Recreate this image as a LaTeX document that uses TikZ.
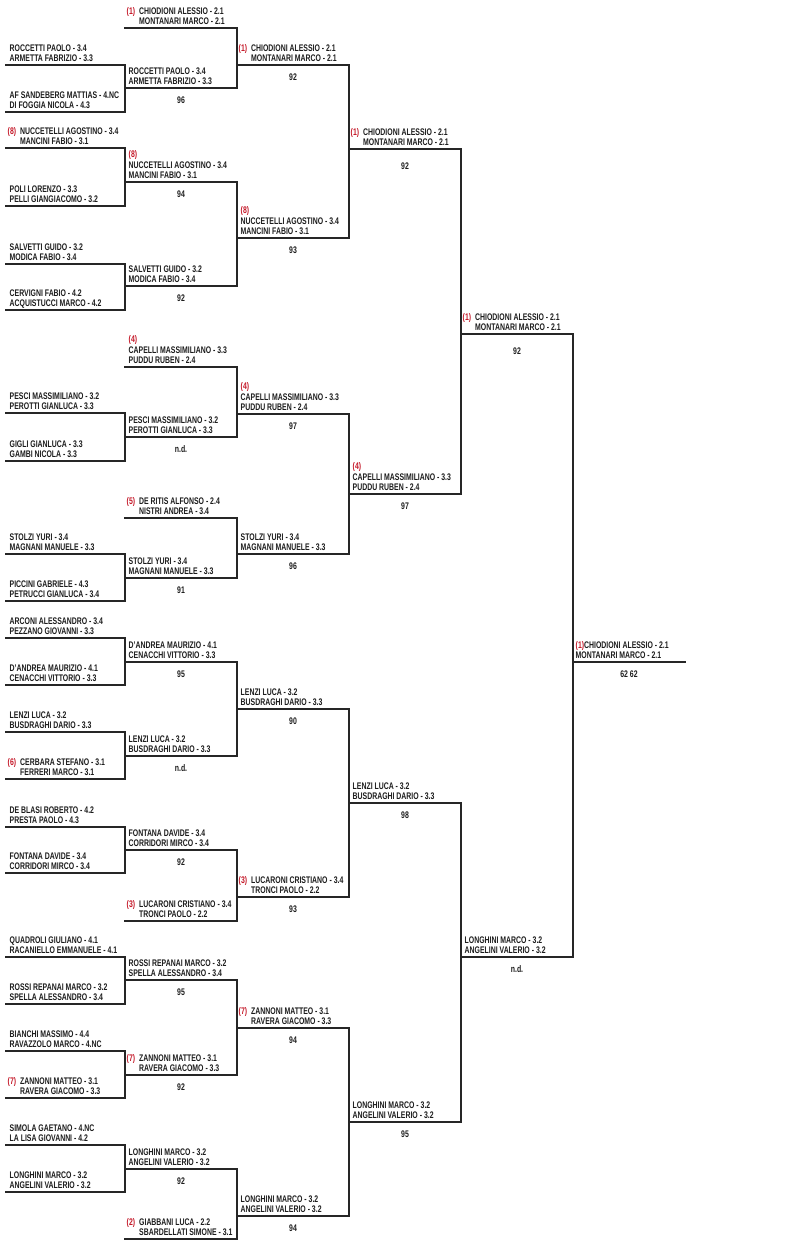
\documentclass[tikz,border=0pt]{standalone}
\usepackage{fontspec}
\setmainfont{Liberation Sans}[FakeStretch=0.72]
\definecolor{ink}{RGB}{28,28,28}
\definecolor{seedred}{RGB}{196,24,40}
\newcommand{\namefont}{\fontsize{9.6}{10.5}\selectfont\bfseries}
\newcommand{\seedtag}[1]{\textcolor{seedred}{(#1)}}
\newcommand{\seedin}[1]{\hspace*{-2pt}\makebox[12.5pt][l]{\seedtag{#1}}}
\newcommand{\seedgap}{\hspace*{10.5pt}}
\begin{document}
\begin{tikzpicture}[x=1pt,y=-1pt,
    bline/.style={line width=1.2pt,draw=black!85,line cap=rect},
    nm/.style={anchor=base west,inner sep=0pt,font=\namefont,text=ink},
    score/.style={anchor=base,inner sep=0pt,font=\namefont,text=ink}]
  \useasboundingbox (0,0) rectangle (800,1259);
  %primo turno
  \foreach \n/\y/\ta/\tb in {1/65/ROCCETTI PAOLO - 3.4/ARMETTA FABRIZIO - 3.3,
      2/112/AF SANDEBERG MATTIAS - 4.NC/DI FOGGIA NICOLA - 4.3,
      3/148/{\seedin{8}NUCCETELLI AGOSTINO - 3.4}/{\seedgap MANCINI FABIO - 3.1},
      4/206/POLI LORENZO - 3.3/PELLI GIANGIACOMO - 3.2,
      5/264/SALVETTI GUIDO - 3.2/MODICA FABIO - 3.4,
      6/310/CERVIGNI FABIO - 4.2/ACQUISTUCCI MARCO - 4.2,
      7/413/PESCI MASSIMILIANO - 3.2/PEROTTI GIANLUCA - 3.3,
      8/461/GIGLI GIANLUCA - 3.3/GAMBI NICOLA - 3.3,
      9/554/STOLZI YURI - 3.4/MAGNANI MANUELE - 3.3,
      10/601/PICCINI GABRIELE - 4.3/PETRUCCI GIANLUCA - 3.4,
      11/638/ARCONI ALESSANDRO - 3.4/PEZZANO GIOVANNI - 3.3,
      12/685/D'ANDREA MAURIZIO - 4.1/CENACCHI VITTORIO - 3.3,
      13/732/LENZI LUCA - 3.2/BUSDRAGHI DARIO - 3.3,
      14/779/{\seedin{6}CERBARA STEFANO - 3.1}/{\seedgap FERRERI MARCO - 3.1},
      15/827/DE BLASI ROBERTO - 4.2/PRESTA PAOLO - 4.3,
      16/873/FONTANA DAVIDE - 3.4/CORRIDORI MIRCO - 3.4,
      17/957/QUADROLI GIULIANO - 4.1/RACANIELLO EMMANUELE - 4.1,
      18/1004/ROSSI REPANAI MARCO - 3.2/SPELLA ALESSANDRO - 3.4,
      19/1051/BIANCHI MASSIMO - 4.4/RAVAZZOLO MARCO - 4.NC,
      20/1098/{\seedin{7}ZANNONI MATTEO - 3.1}/{\seedgap RAVERA GIACOMO - 3.3},
      21/1145/SIMOLA GAETANO - 4.NC/LA LISA GIOVANNI - 4.2,
      22/1192/LONGHINI MARCO - 3.2/ANGELINI VALERIO - 3.2}{
    \draw[bline] (6,\y) coordinate (r0-\n-l) -- (125,\y) coordinate (r0-\n-r);
    \node[nm] (r0-\n-a) at (9.5,\y-14) {\ta};
    \node[nm] (r0-\n-b) at (9.5,\y-3.5) {\tb};
  }
  %secondo turno
  \foreach \n/\y/\ta/\tb in {1/28/{\seedin{1}CHIODIONI ALESSIO - 2.1}/{\seedgap MONTANARI MARCO - 2.1},
      2/88/ROCCETTI PAOLO - 3.4/ARMETTA FABRIZIO - 3.3,
      3/182/NUCCETELLI AGOSTINO - 3.4/MANCINI FABIO - 3.1,
      4/286/SALVETTI GUIDO - 3.2/MODICA FABIO - 3.4,
      5/367/CAPELLI MASSIMILIANO - 3.3/PUDDU RUBEN - 2.4,
      6/437/PESCI MASSIMILIANO - 3.2/PEROTTI GIANLUCA - 3.3,
      7/518/{\seedin{5}DE RITIS ALFONSO - 2.4}/{\seedgap NISTRI ANDREA - 3.4},
      8/578/STOLZI YURI - 3.4/MAGNANI MANUELE - 3.3,
      9/662/D'ANDREA MAURIZIO - 4.1/CENACCHI VITTORIO - 3.3,
      10/756/LENZI LUCA - 3.2/BUSDRAGHI DARIO - 3.3,
      11/850/FONTANA DAVIDE - 3.4/CORRIDORI MIRCO - 3.4,
      12/921/{\seedin{3}LUCARONI CRISTIANO - 3.4}/{\seedgap TRONCI PAOLO - 2.2},
      13/980/ROSSI REPANAI MARCO - 3.2/SPELLA ALESSANDRO - 3.4,
      14/1075/{\seedin{7}ZANNONI MATTEO - 3.1}/{\seedgap RAVERA GIACOMO - 3.3},
      15/1169/LONGHINI MARCO - 3.2/ANGELINI VALERIO - 3.2,
      16/1239/{\seedin{2}GIABBANI LUCA - 2.2}/{\seedgap SBARDELLATI SIMONE - 3.1}}{
    \draw[bline] (125,\y) coordinate (r1-\n-l) -- (237,\y) coordinate (r1-\n-r);
    \node[nm] (r1-\n-a) at (128.5,\y-14) {\ta};
    \node[nm] (r1-\n-b) at (128.5,\y-3.5) {\tb};
  }
  \node[nm,text=seedred] (r1-3-p) at (128.5,157.5) {(8)};
  \node[nm,text=seedred] (r1-5-p) at (128.5,342.5) {(4)};
  \foreach \n/\y/\s in {2/88/96,3/182/94,4/286/92,6/437/n.d.,8/578/91,9/662/95,
      10/756/n.d.,11/850/92,13/980/95,14/1075/92,15/1169/92}
    \node[score] (r1-\n-s) at (181,\y+15) {\s};
  %ottavi
  \foreach \n/\y/\ta/\tb in {1/65/{\seedin{1}CHIODIONI ALESSIO - 2.1}/{\seedgap MONTANARI MARCO - 2.1},
      2/238/NUCCETELLI AGOSTINO - 3.4/MANCINI FABIO - 3.1,
      3/414/CAPELLI MASSIMILIANO - 3.3/PUDDU RUBEN - 2.4,
      4/554/STOLZI YURI - 3.4/MAGNANI MANUELE - 3.3,
      5/709/LENZI LUCA - 3.2/BUSDRAGHI DARIO - 3.3,
      6/897/{\seedin{3}LUCARONI CRISTIANO - 3.4}/{\seedgap TRONCI PAOLO - 2.2},
      7/1028/{\seedin{7}ZANNONI MATTEO - 3.1}/{\seedgap RAVERA GIACOMO - 3.3},
      8/1216/LONGHINI MARCO - 3.2/ANGELINI VALERIO - 3.2}{
    \draw[bline] (237,\y) coordinate (r2-\n-l) -- (349,\y) coordinate (r2-\n-r);
    \node[nm] (r2-\n-a) at (240.5,\y-14) {\ta};
    \node[nm] (r2-\n-b) at (240.5,\y-3.5) {\tb};
  }
  \node[nm,text=seedred] (r2-2-p) at (240.5,213.5) {(8)};
  \node[nm,text=seedred] (r2-3-p) at (240.5,389.5) {(4)};
  \foreach \n/\y/\s in {1/65/92,2/238/93,3/414/97,4/554/96,5/709/90,6/897/93,7/1028/94,8/1216/94}
    \node[score] (r2-\n-s) at (293,\y+15) {\s};
  %quarti
  \foreach \n/\y/\ta/\tb in {1/149/{\seedin{1}CHIODIONI ALESSIO - 2.1}/{\seedgap MONTANARI MARCO - 2.1},
      2/494/CAPELLI MASSIMILIANO - 3.3/PUDDU RUBEN - 2.4,
      3/803/LENZI LUCA - 3.2/BUSDRAGHI DARIO - 3.3,
      4/1122/LONGHINI MARCO - 3.2/ANGELINI VALERIO - 3.2}{
    \draw[bline] (349,\y) coordinate (r3-\n-l) -- (461,\y) coordinate (r3-\n-r);
    \node[nm] (r3-\n-a) at (352.5,\y-14) {\ta};
    \node[nm] (r3-\n-b) at (352.5,\y-3.5) {\tb};
  }
  \node[nm,text=seedred] (r3-2-p) at (352.5,469.5) {(4)};
  \foreach \n/\y/\s in {1/154/92,2/494/97,3/803/98,4/1122/95}
    \node[score] (r3-\n-s) at (405,\y+15) {\s};
  %semifinali
  \foreach \n/\y/\ta/\tb in {1/334/{\seedin{1}CHIODIONI ALESSIO - 2.1}/{\seedgap MONTANARI MARCO - 2.1},
      2/957/LONGHINI MARCO - 3.2/ANGELINI VALERIO - 3.2}{
    \draw[bline] (461,\y) coordinate (r4-\n-l) -- (573,\y) coordinate (r4-\n-r);
    \node[nm] (r4-\n-a) at (464.5,\y-14) {\ta};
    \node[nm] (r4-\n-b) at (464.5,\y-3.5) {\tb};
  }
  \node[score] (r4-1-s) at (517,354) {92};
  \node[score] (r4-2-s) at (517,972) {n.d.};
  %finale
  \draw[bline] (573,662) coordinate (r5-1-l) -- (685,662) coordinate (r5-1-r);
  \node[nm] (r5-1-a) at (575.5,648) {\seedtag{1}CHIODIONI ALESSIO - 2.1};
  \node[nm] (r5-1-b) at (575.5,658.5) {MONTANARI MARCO - 2.1};
  \node[score] (r5-1-s) at (629,677) {62 62};
  %tabellone
  \foreach \i in {1,3,...,21}{
    \pgfmathtruncatemacro{\j}{\i+1}
    \draw[bline] (r0-\i-r) -- (r0-\j-r);
  }
  \foreach \i in {1,3,...,15}{
    \pgfmathtruncatemacro{\j}{\i+1}
    \draw[bline] (r1-\i-r) -- (r1-\j-r);
  }
  \foreach \i in {1,3,5,7}{
    \pgfmathtruncatemacro{\j}{\i+1}
    \draw[bline] (r2-\i-r) -- (r2-\j-r);
  }
  \draw[bline] (r3-1-r) -- (r3-2-r);
  \draw[bline] (r3-3-r) -- (r3-4-r);
  \draw[bline] (r4-1-r) -- (r4-2-r);
\end{tikzpicture}
\end{document}
